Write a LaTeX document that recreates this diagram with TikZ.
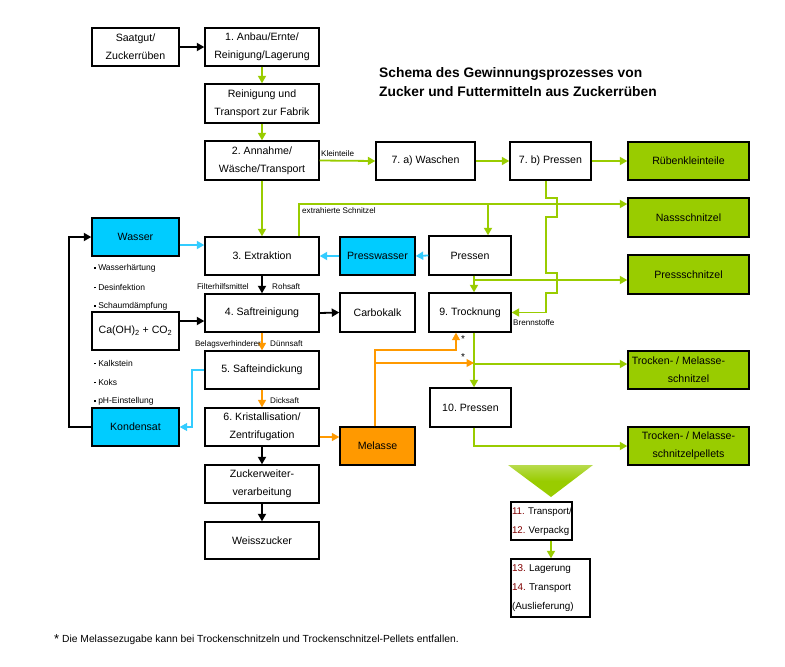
\documentclass[tikz,border=0pt]{standalone}
\usepackage{fontspec}
\setmainfont{Liberation Sans}
\usetikzlibrary{arrows.meta}
\frenchspacing
\definecolor{gr}{HTML}{99CC00}
\definecolor{cy}{HTML}{00CCFF}
\definecolor{cyl}{HTML}{33CCFF}
\definecolor{og}{HTML}{FF9900}
\definecolor{nr}{HTML}{800000}
\newcommand\bx[7]{\node[#6, minimum width={(#4-#2)*1pt}, minimum height={(#5-#3)*1pt}] (#1) at ({(#2+#4)/2},{(#3+#5)/2}) {#7};}
\newcommand\sqb{\rule[1.6pt]{1.7pt}{1.7pt}}
\begin{document}
\begin{tikzpicture}[x=1pt,y=-1pt,
  box/.style={draw=black, line width=1.4pt, inner sep=0pt, align=center, font=\fontsize{10.6}{18}\selectfont},
  gbox/.style={box, fill=gr},
  cbox/.style={box, fill=cy},
  obox/.style={box, fill=og},
  tip/.style={-{Triangle[length=7.5pt,width=8pt]}},
  garr/.style={draw=gr, line width=1.8pt, tip},
  carr/.style={draw=cyl, line width=1.8pt, tip},
  carrt/.style={draw=cyl, line width=1.1pt, tip},
  karr/.style={draw=black, line width=1.8pt, tip},
  oarr/.style={draw=og, line width=1.6pt, tip},
  oarrt/.style={draw=og, line width=1.1pt, tip},
  lbl/.style={font=\fontsize{8.1}{9}\selectfont, inner sep=0pt},
  bul/.style={font=\fontsize{8.5}{9}\selectfont, inner sep=0pt, anchor=west},
  ast/.style={font=\fontsize{10}{10}\selectfont, inner sep=0pt}]
\useasboundingbox (0,0) rectangle (785,667);
% title
\node[anchor=north west, inner sep=0pt, align=left, font=\bfseries\fontsize{13.8}{19}\selectfont] (title) at (379,67) {Schema des Gewinnungsprozesses von\\Zucker und Futtermitteln aus Zuckerrüben};
% boxes
\bx{saat}{92}{28}{179}{66}{box}{Saatgut/\\Zuckerrüben}
\bx{anbau}{205}{28}{319}{66}{box}{1. Anbau/Ernte/\\Reinigung/Lagerung}
\bx{rein}{205}{84}{319}{123}{box}{Reinigung und\\Transport zur Fabrik}
\bx{annahme}{205}{141}{319}{180}{box}{2. Annahme/\\Wäsche/Transport}
\bx{wasch}{376}{142}{475}{180}{box}{7. a) Waschen}
\bx{pressb}{510}{142}{591}{180}{box}{7. b) Pressen}
\bx{rueben}{628}{142}{749}{180}{gbox}{Rübenkleinteile}
\bx{nass}{628}{198}{749}{237}{gbox}{Nassschnitzel}
\bx{wasser}{92}{218}{179}{256}{cbox}{Wasser}
\bx{extr}{205}{237}{319}{275}{box}{3. Extraktion}
\bx{pwasser}{340}{237}{415}{275}{cbox}{Presswasser}
\bx{pressen}{429}{236}{511}{275}{box}{Pressen}
\bx{pschn}{628}{255}{749}{294}{gbox}{Pressschnitzel}
\bx{ca}{92}{312}{179}{350}{box}{Ca(OH)\textsubscript{2} + CO\textsubscript{2}}
\bx{saft}{205}{294}{319}{332}{box}{4. Saftreinigung}
\bx{carbo}{340}{293}{415}{332}{box}{Carbokalk}
\bx{trock}{429}{293}{511}{332}{box}{9. Trocknung}
\bx{safte}{205}{351}{319}{389}{box}{5. Safteindickung}
\bx{tschn}{628}{351}{749}{389}{gbox}{Trocken- / Melasse-\hspace*{20pt}\\schnitzel}
\bx{press10}{430}{388}{511}{427}{box}{10. Pressen}
\bx{kond}{92}{408}{179}{446}{cbox}{Kondensat}
\bx{krist}{205}{408}{319}{446}{box}{6. Kristallisation/\\Zentrifugation}
\bx{melasse}{340}{427}{415}{465}{obox}{Melasse}
\bx{pellets}{628}{427}{749}{465}{gbox}{Trocken- / Melasse-\\schnitzelpellets}
\bx{zucker}{205}{465}{319}{503}{box}{Zuckerweiter-\\verarbeitung}
\bx{weiss}{205}{522}{319}{559}{box}{Weisszucker}
\node[box, align=left, text width=59pt, inner xsep=1pt, minimum height=38pt, font=\fontsize{9.7}{19}\selectfont] (tr11) at (541.5,521) {\mbox{\textcolor{nr}{11.} Transport/}\\\mbox{\textcolor{nr}{12.} Verpackg}};
\node[box, align=left, text width=77pt, inner xsep=1pt, minimum height=58pt, font=\fontsize{9.9}{19}\selectfont] (tr13) at (550.5,588) {\mbox{\textcolor{nr}{13.} Lagerung}\\\mbox{\textcolor{nr}{14.} Transport}\\\mbox{(Auslieferung)}};
% triangle
\shade[top color=gr!70!white, bottom color=gr, middle color=gr] (508,465) -- (593,465) -- (551,497) -- cycle;
% bullet texts
\node[bul] (b1) at (94,268) {\sqb\ Wasserhärtung};
\node[bul] (b2) at (94,287) {\sqb\ Desinfektion};
\node[bul] (b3) at (94,306) {\sqb\ Schaumdämpfung};
\node[bul] (b4) at (94,363) {\sqb\ Kalkstein};
\node[bul] (b5) at (94,382) {\sqb\ Koks};
\node[bul] (b6) at (94,401) {\sqb\ pH-Einstellung};
% connectors
\draw[karr] (saat.east) -- (anbau.west);
\draw[garr] (anbau.south) -- (rein.north);
\draw[garr] (rein.south) -- (annahme.north);
\draw[garr] (annahme.east) -- (wasch.west);
\node[lbl, anchor=west] (kl) at (321,154) {Kleinteile};
\draw[garr] (wasch.east) -- (pressb.west);
\draw[garr] (pressb.east) -- (rueben.west);
\draw[garr] (annahme.south) -- (extr.north);
\draw[garr] (extr.north -| 299,0) -- (299,204) -- (nass.west |- 0,204);
\node[lbl, anchor=west] (exs) at (302,211) {extrahierte Schnitzel};
\draw[garr] (488,204) -- (pressen.north -| 488,0);
\draw[garr] (pressb.south -| 546,0) -- (546,198) -- (557,198) -- (557,217) -- (546,217) -- (546,273) -- (557,273) -- (557,293) -- (546,293) -- (546,312.5) -- (trock.east);
\node[lbl, anchor=west] (brenn) at (513,323) {Brennstoffe};
\draw[carr] (wasser.east |- 0,245) -- (extr.west |- 0,245);
\draw[carr] (pressen.west) -- (pwasser.east);
\draw[carr] (pwasser.west) -- (extr.east);
\draw[karr] (extr.south) -- (saft.north);
\node[lbl, anchor=east] (filt) at (249,287) {Filterhilfsmittel};
\node[lbl, anchor=west] (roh) at (272,287) {Rohsaft};
\draw[karr] (ca.east |- 0,321) -- (saft.west |- 0,321);
\draw[karr] (saft.east) -- (carbo.west);
\draw[oarr] (saft.south) -- (safte.north);
\node[lbl, anchor=east] (belag) at (261,344) {Belagsverhinderer};
\node[lbl, anchor=west] (duenn) at (270,344) {Dünnsaft};
\draw[oarr] (safte.south) -- (krist.north);
\node[lbl, anchor=west] (dick) at (270,401) {Dicksaft};
\draw[carrt] (safte.west) -- (192,370) -- (192,427) -- (kond.east);
\draw[karr] (kond.west) -- (69,427) -- (69,237) -- (wasser.west);
\draw[oarr] (krist.east |- 0,437) -- (melasse.west |- 0,437);
\draw[karr] (krist.south) -- (zucker.north);
\draw[karr] (zucker.south) -- (weiss.north);
\draw[garr] (pressen.south -| 474,0) -- (trock.north -| 474,0);
\draw[garr] (474,280) -- (pschn.west |- 0,280);
\draw[oarrt] (melasse.north -| 375,0) -- (375,350) -- (456,350) -- (trock.south -| 456,0);
\node[ast] (a1) at (463,339) {*};
\coordinate (mb) at (375,363);
\coordinate (mj) at (474,363);
\draw[garr] (trock.south -| 474,0) -- (press10.north -| 474,0);
\draw[garr] (474,364) -- (tschn.west |- 0,364);
\draw[oarrt] (mb) -- (mj);
\node[ast] (a2) at (463,357) {*};
\draw[garr] (press10.south -| 474,0) -- (474,446) -- (pellets.west);
\draw[garr] (tr11.south -| 551,0) -- (tr13.north -| 551,0);
% footnote
\node[anchor=west, inner sep=0pt, font=\fontsize{10.3}{11}\selectfont] (foot) at (54,640) {{\fontsize{13}{13}\selectfont\raisebox{-1pt}{*}}\ Die Melassezugabe kann bei Trockenschnitzeln und Trockenschnitzel-Pellets entfallen.};
\end{tikzpicture}
\end{document}
